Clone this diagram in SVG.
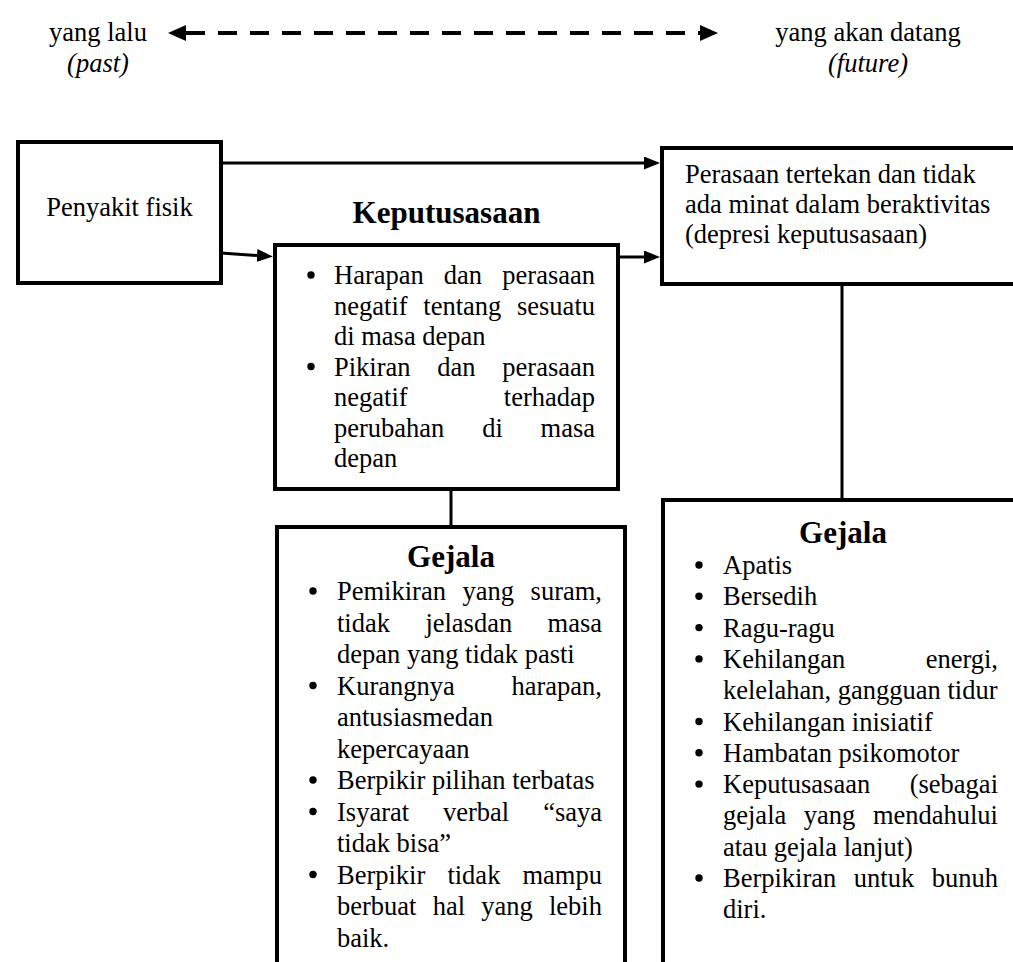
<svg xmlns="http://www.w3.org/2000/svg" width="1013" height="962" viewBox="0 0 1013 962">
<style>
.box{fill:#fff;stroke:#000;stroke-width:4}
.con{stroke:#000;stroke-width:3;fill:none}
.t{font-family:"Liberation Serif","Times New Roman",serif;font-size:26.5px;fill:#000}
.i{font-style:italic}
.b{font-weight:bold;font-size:31px}
.e{text-anchor:end}
.m{text-anchor:middle}
.dot{fill:#000}
</style>
<defs>
<marker id="ah" viewBox="0 0 16 13" refX="0" refY="6.5" markerWidth="16" markerHeight="13" markerUnits="userSpaceOnUse" orient="auto-start-reverse"><path d="M0,0 L16,6.5 L0,13 z" fill="#000"/></marker>
<marker id="ahd" viewBox="0 0 18 16" refX="0" refY="8" markerWidth="18" markerHeight="16" markerUnits="userSpaceOnUse" orient="auto-start-reverse"><path d="M0,0 L18,8 L0,16 z" fill="#000"/></marker>
</defs>
<rect width="1013" height="962" fill="#fff"/>

<g id="time-axis">
<text class="t m" x="98" y="41">yang lalu</text>
<text class="t i m" x="98" y="72">(past)</text>
<text class="t m" x="868" y="41">yang akan datang</text>
<text class="t i m" x="868" y="72">(future)</text>
</g>

<g id="connectors">
<line x1="186" y1="33" x2="700" y2="33" stroke="#000" stroke-width="4" stroke-dasharray="19 13" marker-start="url(#ahd)" marker-end="url(#ahd)"/>
<line class="con" x1="221" y1="163" x2="644" y2="163" marker-end="url(#ah)"/>
<line class="con" x1="221" y1="253" x2="257" y2="255.5" marker-end="url(#ah)"/>
<line class="con" x1="618" y1="257" x2="644" y2="257" marker-end="url(#ah)"/>
<line class="con" x1="451" y1="489" x2="451" y2="527" stroke-width="3.5"/>
<line class="con" x1="842" y1="284" x2="842" y2="500" stroke-width="3.5"/>
</g>

<g id="penyakit-fisik">
<rect class="box" x="18" y="142" width="203" height="141"/>
<text class="t m" x="119.5" y="216">Penyakit fisik</text>
</g>

<g id="keputusasaan">
<text class="t b m" x="446.5" y="223">Keputusasaan</text>
<rect class="box" x="275" y="245" width="343" height="244"/>
<circle class="dot" cx="311" cy="275" r="3.7"/>
<text class="t" y="284"><tspan x="334">Harapan</tspan><tspan x="463" class="m">dan</tspan><tspan x="595" class="e">perasaan</tspan></text>
<text class="t" y="314.5"><tspan x="334">negatif</tspan><tspan x="462.3" class="m">tentang</tspan><tspan x="595" class="e">sesuatu</tspan></text>
<text class="t" x="334" y="345">di masa depan</text>
<circle class="dot" cx="311" cy="366.5" r="3.7"/>
<text class="t" y="375.5"><tspan x="334">Pikiran</tspan><tspan x="456.5" class="m">dan</tspan><tspan x="595" class="e">perasaan</tspan></text>
<text class="t" y="406"><tspan x="334">negatif</tspan><tspan x="595" class="e">terhadap</tspan></text>
<text class="t" y="436.5"><tspan x="334">perubahan</tspan><tspan x="492.5" class="m">di</tspan><tspan x="595" class="e">masa</tspan></text>
<text class="t" x="334" y="467">depan</text>
</g>

<g id="depresi">
<rect class="box" x="662" y="148" width="370" height="136"/>
<text class="t" x="685" y="183">Perasaan tertekan dan tidak</text>
<text class="t" x="685" y="213">ada minat dalam beraktivitas</text>
<text class="t" x="685" y="243">(depresi keputusasaan)</text>
</g>

<g id="gejala-keputusasaan">
<rect class="box" x="277" y="527" width="348" height="480"/>
<text class="t b m" x="451" y="567">Gejala</text>
<circle class="dot" cx="313" cy="591" r="3.7"/>
<text class="t" y="600"><tspan x="337">Pemikiran</tspan><tspan x="488.3" class="m">yang</tspan><tspan x="602" class="e">suram,</tspan></text>
<text class="t" y="631.5"><tspan x="337">tidak</tspan><tspan x="468.8" class="m">jelasdan</tspan><tspan x="602" class="e">masa</tspan></text>
<text class="t" x="337" y="663">depan yang tidak pasti</text>
<circle class="dot" cx="313" cy="685.5" r="3.7"/>
<text class="t" y="694.5"><tspan x="337">Kurangnya</tspan><tspan x="602" class="e">harapan,</tspan></text>
<text class="t" x="337" y="726">antusiasmedan</text>
<text class="t" x="337" y="757.5">kepercayaan</text>
<circle class="dot" cx="313" cy="780" r="3.7"/>
<text class="t" x="337" y="789">Berpikir pilihan terbatas</text>
<circle class="dot" cx="313" cy="811.5" r="3.7"/>
<text class="t" y="820.5"><tspan x="337">Isyarat</tspan><tspan x="476.1" class="m">verbal</tspan><tspan x="602" class="e">“saya</tspan></text>
<text class="t" x="337" y="852">tidak bisa”</text>
<circle class="dot" cx="313" cy="874.5" r="3.7"/>
<text class="t" y="883.5"><tspan x="337">Berpikir</tspan><tspan x="473.9" class="m">tidak</tspan><tspan x="602" class="e">mampu</tspan></text>
<text class="t" y="915"><tspan x="337">berbuat</tspan><tspan x="432.7">hal</tspan><tspan x="481.3">yang</tspan><tspan x="602" class="e">lebih</tspan></text>
<text class="t" x="337" y="946.5">baik.</text>
</g>

<g id="gejala-depresi">
<rect class="box" x="663" y="500" width="370" height="510"/>
<text class="t b m" x="843" y="543">Gejala</text>
<circle class="dot" cx="699" cy="565" r="3.7"/>
<text class="t" x="723" y="574">Apatis</text>
<circle class="dot" cx="699" cy="596.3" r="3.7"/>
<text class="t" x="723" y="605.3">Bersedih</text>
<circle class="dot" cx="699" cy="627.6" r="3.7"/>
<text class="t" x="723" y="636.6">Ragu-ragu</text>
<circle class="dot" cx="699" cy="658.9" r="3.7"/>
<text class="t" y="667.9"><tspan x="723">Kehilangan</tspan><tspan x="998" class="e">energi,</tspan></text>
<text class="t" x="723" y="699.2">kelelahan, gangguan tidur</text>
<circle class="dot" cx="699" cy="721.5" r="3.7"/>
<text class="t" x="723" y="730.5">Kehilangan inisiatif</text>
<circle class="dot" cx="699" cy="752.8" r="3.7"/>
<text class="t" x="723" y="761.8">Hambatan psikomotor</text>
<circle class="dot" cx="699" cy="784.1" r="3.7"/>
<text class="t" y="793.1"><tspan x="723">Keputusasaan</tspan><tspan x="998" class="e">(sebagai</tspan></text>
<text class="t" y="824.4"><tspan x="723">gejala</tspan><tspan x="829.6" class="m">yang</tspan><tspan x="998" class="e">mendahului</tspan></text>
<text class="t" x="723" y="855.7">atau gejala lanjut)</text>
<circle class="dot" cx="699" cy="878" r="3.7"/>
<text class="t" y="887"><tspan x="723">Berpikiran</tspan><tspan x="884" class="m">untuk</tspan><tspan x="998" class="e">bunuh</tspan></text>
<text class="t" x="723" y="918.3">diri.</text>
</g>
</svg>
